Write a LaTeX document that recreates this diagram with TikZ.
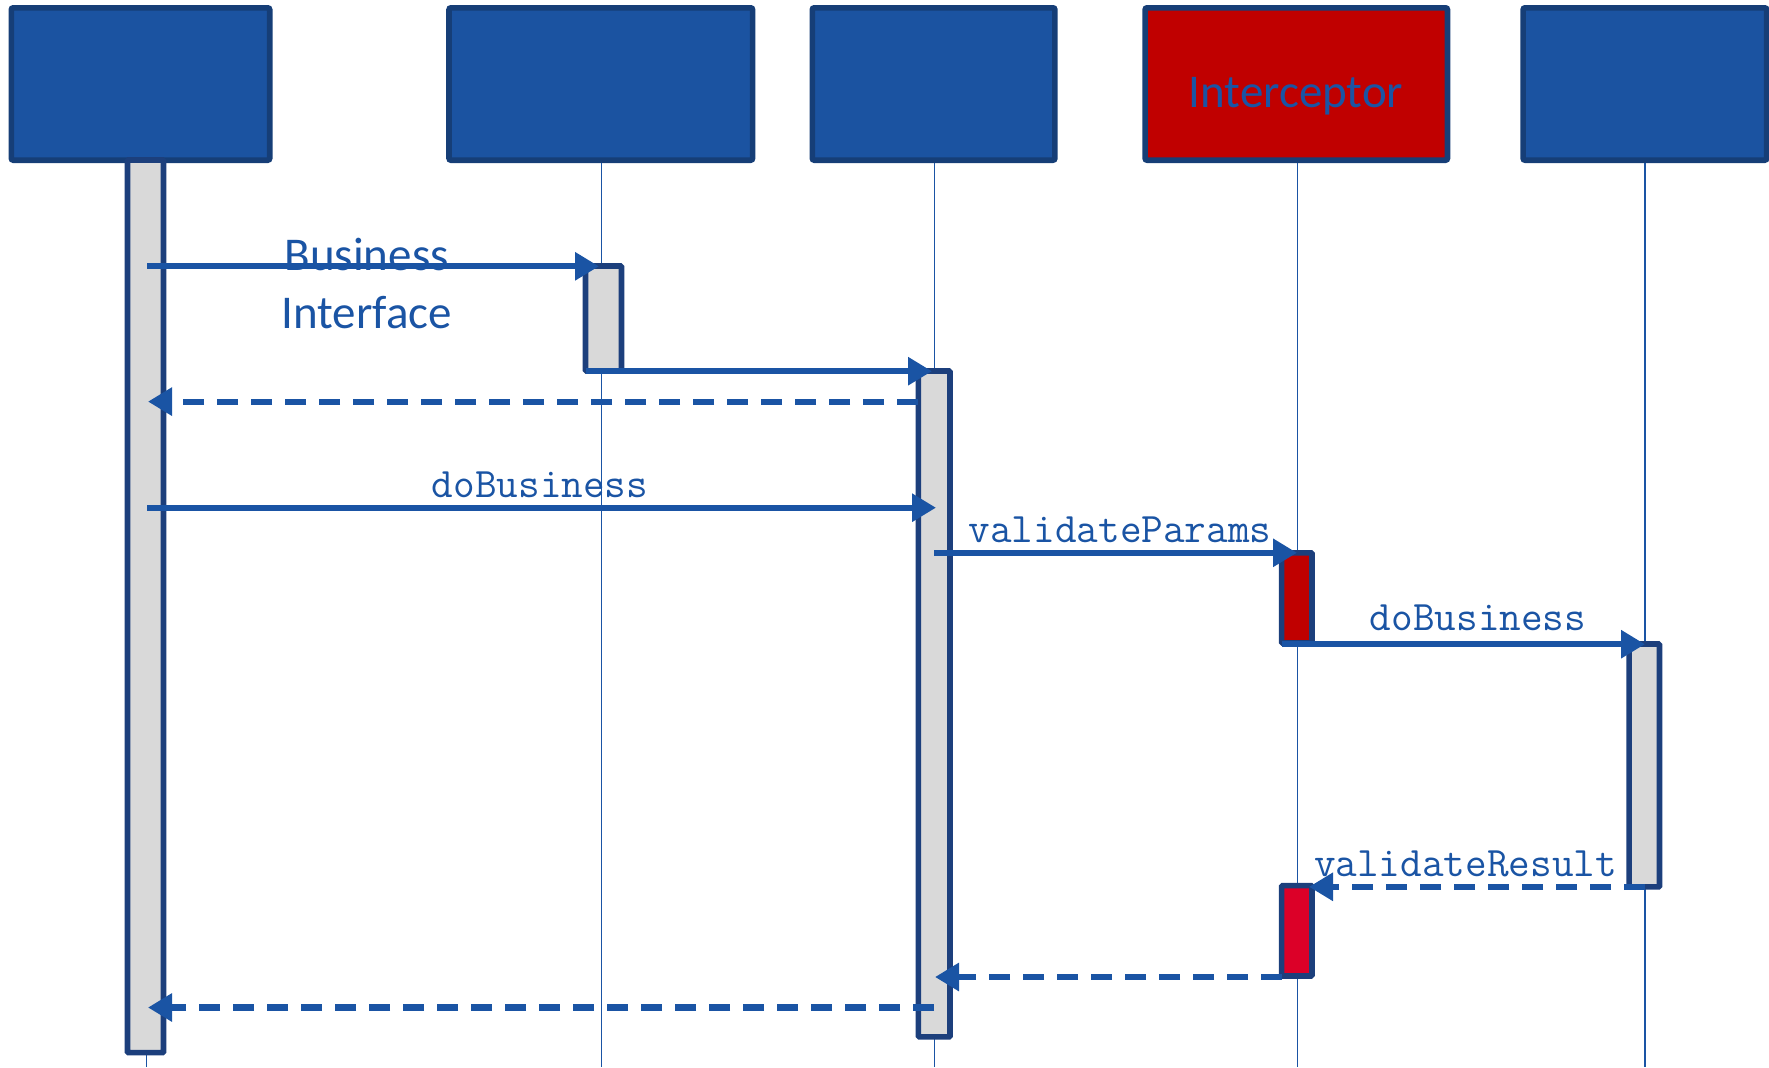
\documentclass[tikz,border=0pt]{standalone}
\usepackage{fontspec}
\usetikzlibrary{arrows.meta}
\newfontfamily\labelsans{Carlito}
\definecolor{headblue}{HTML}{1B53A1}
\definecolor{headedge}{HTML}{163E77}
\definecolor{msgblue}{HTML}{1A54A4}
\definecolor{actedge}{HTML}{1C3F7C}
\definecolor{actgray}{HTML}{D9D9D9}
\definecolor{interred}{HTML}{C00000}
\definecolor{crimson}{HTML}{DC0028}
\begin{document}
\begin{tikzpicture}[x=0.5pt,y=-0.5pt,
  head/.style={draw=headedge, line width=2.8pt, fill=headblue, rounded corners=1pt,
    minimum height=76.2pt, inner sep=0pt},
  lifeline/.style={draw=msgblue, line width=0.7pt},
  activation/.style={draw=actedge, line width=2.8pt, fill=actgray, inner sep=0pt, rounded corners=0.5pt},
  call/.style={draw=msgblue, line width=3.1pt, -{Triangle[length=12pt,width=13.5pt]}},
  reply/.style={call, dash pattern=on 10.5pt off 6.5pt},
  sanslabel/.style={text=msgblue, font=\labelsans\fontsize{23.5}{28.75}\selectfont, inner sep=0pt, align=center},
  monolabel/.style={text=msgblue, font=\ttfamily\fontsize{21}{24}\selectfont, inner sep=0pt, anchor=base}
]
\useasboundingbox (0,0) rectangle (1769,1067);

% participants
\node[head, minimum width=129.2pt] (client) at (140.5,84) {};
\node[head, minimum width=151.8pt] (proxy) at (600.8,84) {};
\node[head, minimum width=121.3pt] (container) at (933.6,84) {};
\node[head, minimum width=151.2pt, fill=interred] (interceptor) at (1296.3,84) {};
\node[head, minimum width=121.8pt] (bean) at (1644.9,84) {};
\node[sanslabel, anchor=base] (interceptor-name) at (1296,107) {Interceptor};

% lifelines
\coordinate (client-end) at (146.5,1067);
\coordinate (proxy-end) at (601.3,1067);
\coordinate (container-end) at (934.2,1067);
\coordinate (interceptor-end) at (1297.4,1067);
\coordinate (bean-end) at (1645,1067);
\draw[lifeline] (client-end |- client.south) -- (client-end);
\draw[lifeline] (proxy-end |- proxy.south) -- (proxy-end);
\draw[lifeline] (container-end |- container.south) -- (container-end);
\draw[lifeline] (interceptor-end |- interceptor.south) -- (interceptor-end);
\draw[lifeline] (bean-end |- bean.south) -- (bean-end);

% activation bars
\node[activation, minimum width=18pt, minimum height=446.3pt] (act-client) at (145.5,606.3) {};
\node[activation, minimum width=18pt, minimum height=52.5pt] (act-proxy) at (603.5,318.5) {};
\node[activation, minimum width=15.8pt, minimum height=332.9pt] (act-container) at (934.2,703.9) {};
\node[activation, minimum width=15.2pt, minimum height=45.1pt, fill=interred] (act-params) at (1296.8,597.9) {};
\node[activation, minimum width=15.2pt, minimum height=121.4pt] (act-bean) at (1644.3,765.4) {};
\node[activation, minimum width=15.2pt, minimum height=45.2pt, fill=crimson] (act-result) at (1296.8,930.8) {};

% message end points
\coordinate (m1s) at (147,266.3);   \coordinate (m1e) at (599,266.3);
\coordinate (m2s) at (586,371.2);   \coordinate (m2e) at (932,371.2);
\coordinate (m3s) at (918,401.6);   \coordinate (m3e) at (148,401.6);
\coordinate (m4s) at (147,507.7);   \coordinate (m4e) at (936,507.7);
\coordinate (m5s) at (934,552.8);   \coordinate (m5e) at (1297,552.8);
\coordinate (m6s) at (1282,644.2);  \coordinate (m6e) at (1645,644.2);
\coordinate (m7s) at (1645,886.8);  \coordinate (m7e) at (1309,886.8);
\coordinate (m8s) at (1282,977);    \coordinate (m8e) at (935,977);
\coordinate (m9s) at (934,1007.5);  \coordinate (m9e) at (148,1007.5);

% messages
\draw[call] (m1s) -- (m1e);
\draw[call] (m2s) -- (m2e);
\draw[reply] (m3s) -- (m3e);
\draw[call] (m4s) -- (m4e);
\draw[call] (m5s) -- (m5e);
\draw[call] (m6s) -- (m6e);
\draw[reply] (m7s) -- (m7e);
\draw[reply] (m8s) -- (m8e);
\draw[reply] (m9s) -- (m9e);

% message labels
\node[sanslabel, anchor=base] (lbl-business) at (366.7,328.3) {Business\\Interface};
\node[monolabel] (lbl-do1) at (540,497.5) {doBusiness};
\node[monolabel] (lbl-params) at (1120,542.6) {validateParams};
\node[monolabel] (lbl-do2) at (1478,630.6) {doBusiness};
\node[monolabel] (lbl-result) at (1465.5,876.6) {validateResult};
\end{tikzpicture}
\end{document}
